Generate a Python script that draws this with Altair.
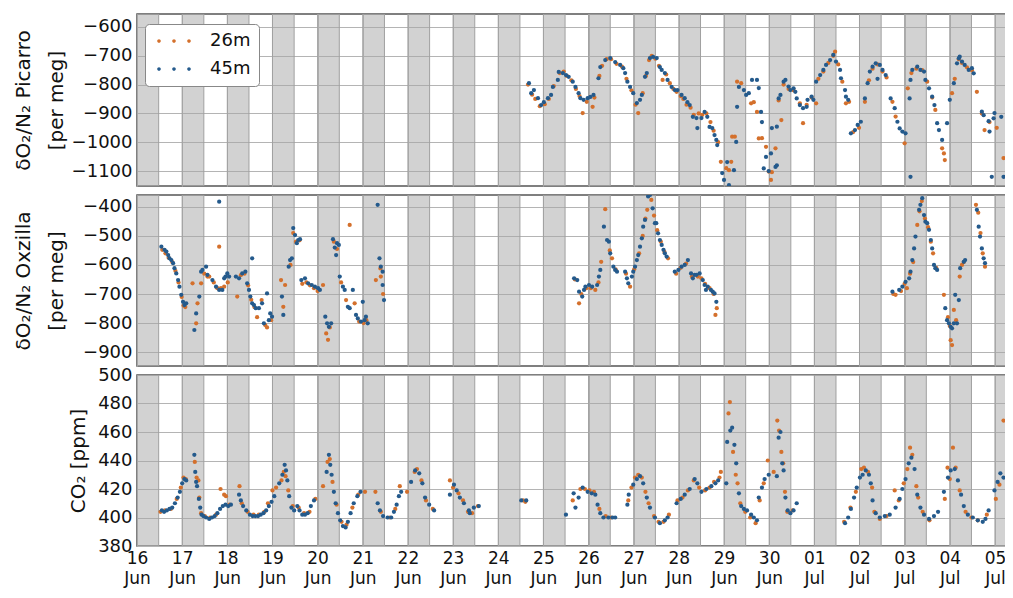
import altair as alt
import pandas as pd

# x values are day-of-June (1 Jul = 31, 2 Jul = 32, ...)
ORANGE = "#d4702c"
BLUE = "#245a8c"

# ---------------- Panel 1: dO2/N2 Picarro ----------------
pic45_t = [24.68, 24.73, 24.79, 24.88, 24.95, 25.01, 25.10, 25.17, 25.21, 25.32, 25.34, 25.43, 25.50, 25.56,
           25.65, 25.71, 25.78, 25.82, 25.89, 25.98, 26.04, 26.11, 26.22, 26.26, 26.37, 26.48, 26.59, 26.70,
           26.77, 26.81, 26.86, 26.92, 26.99, 27.07, 27.14, 27.18, 27.25, 27.29, 27.36, 27.43, 27.51, 27.58,
           27.62, 27.69, 27.75, 27.84, 27.91, 27.97, 28.06, 28.13, 28.19, 28.24, 28.31, 28.39, 28.41, 28.50,
           28.57, 28.63, 28.68, 28.74, 28.79, 28.83, 28.85, 28.96, 29.00, 29.07, 29.11, 29.22, 29.27, 29.29,
           29.33, 29.44, 29.49, 29.55, 29.62, 29.73, 29.77, 29.82, 29.84, 29.88, 29.93, 29.99, 30.04, 30.06,
           30.14, 30.17, 30.17, 30.21, 30.25, 30.32, 30.36, 30.43, 30.47, 30.54, 30.58, 30.61, 30.68, 30.75,
           30.83, 30.85, 30.94, 30.98, 31.04, 31.13, 31.20, 31.26, 31.35, 31.42, 31.48, 31.57, 31.59, 31.68,
           31.70, 31.75, 31.81, 31.90, 31.96, 32.03, 32.12, 32.18, 32.23, 32.29, 32.36, 32.40, 32.45, 32.51,
           32.58, 32.69, 32.78, 32.84, 32.89, 32.95, 33.02, 33.11, 33.13, 33.13, 33.17, 33.28, 33.35, 33.43,
           33.46, 33.54, 33.61, 33.66, 33.72, 33.76, 33.83, 33.94, 34.00, 34.09, 34.16, 34.20, 34.22, 34.27,
           34.33, 34.42, 34.49, 34.53, 34.71, 34.75, 34.86, 34.88, 34.93, 34.97, 34.99, 35.14, 35.19]
pic45_v = [-795, -830, -819, -847, -871, -861, -847, -836, -808, -784, -756, -760, -767, -773,
           -790, -808, -830, -847, -853, -847, -843, -836, -778, -739, -715, -708, -722, -732,
           -743, -760, -790, -808, -830, -864, -853, -836, -773, -760, -708, -704, -708, -739,
           -749, -760, -784, -808, -819, -819, -836, -847, -861, -871, -912, -916, -951, -916,
           -895, -912, -947, -951, -975, -992, -1010, -1107, -1131, -1069, -1149, -1097, -999, -877,
           -808, -819, -836, -830, -784, -784, -812, -895, -930, -1091, -1051, -1100, -1039, -951,
           -1086, -1080, -946, -848, -836, -790, -784, -807, -819, -813, -825, -848, -871, -882,
           -877, -853, -842, -853, -790, -767, -749, -732, -715, -697, -720, -749, -778, -819,
           -842, -853, -969, -958, -940, -929, -848, -795, -755, -738, -726, -780, -732, -749,
           -767, -848, -882, -929, -952, -963, -969, -848, -784, -1120, -749, -738, -749, -755,
           -784, -813, -842, -871, -934, -958, -992, -934, -853, -795, -726, -709, -703, -720,
           -732, -749, -743, -761, -894, -906, -927, -963, -1120, -917, -899, -912, -1120]
pic26_t = [24.66, 24.75, 24.82, 24.92, 25.03, 25.12, 25.23, 25.36, 25.45, 25.52, 25.62, 25.72, 25.80, 25.87,
           25.96, 26.09, 26.13, 26.24, 26.30, 26.40, 26.50, 26.62, 26.74, 26.84, 26.95, 27.04, 27.10, 27.20,
           27.27, 27.34, 27.40, 27.48, 27.56, 27.64, 27.72, 27.80, 27.88, 27.95, 28.04, 28.10, 28.17, 28.26,
           28.33, 28.44, 28.52, 28.61, 28.70, 28.77, 28.87, 28.93, 29.05, 29.11, 29.16, 29.18, 29.24, 29.29,
           29.38, 29.60, 29.66, 29.73, 29.77, 29.84, 29.93, 29.99, 30.04, 30.06, 30.14, 30.21, 30.27, 30.32,
           30.43, 30.54, 30.68, 30.75, 30.83, 30.94, 31.04, 31.09, 31.20, 31.31, 31.42, 31.46, 31.53, 31.62,
           31.70, 31.77, 31.86, 31.99, 32.12, 32.21, 32.29, 32.40, 32.51, 32.60, 32.73, 32.80, 33.00, 33.07,
           33.15, 33.26, 33.39, 33.50, 33.61, 33.68, 33.83, 33.87, 33.89, 34.05, 34.11, 34.20, 34.27, 34.38,
           34.49, 34.60, 34.71, 34.77, 34.88, 35.04, 35.19]
pic26_v = [-800, -835, -850, -875, -868, -850, -805, -760, -755, -770, -785, -815, -840, -899,
           -860, -877, -845, -770, -735, -712, -712, -728, -738, -780, -820, -870, -899, -830,
           -770, -715, -700, -710, -735, -784, -765, -795, -815, -825, -840, -850, -870, -880,
           -905, -900, -905, -900, -930, -960, -1000, -1068, -1090, -1097, -1068, -981, -981, -790,
           -795, -865, -861, -895, -987, -986, -1016, -1102, -1131, -1104, -1021, -855, -923, -800,
           -815, -820, -865, -934, -870, -845, -865, -780, -755, -725, -700, -686, -730, -790,
           -865, -860, -965, -950, -860, -785, -745, -730, -755, -775, -860, -911, -1004, -813,
           -760, -745, -750, -790, -845, -888, -1021, -1039, -1062, -830, -780, -712, -725, -740,
           -750, -825, -900, -958, -930, -950, -1055]

# ---------------- Panel 2: dO2/N2 Oxzilla ----------------
oxz45_t = [16.54, 16.61, 16.65, 16.69, 16.72, 16.76, 16.80, 16.83, 16.87, 16.91, 16.94, 16.98, 17.02, 17.05,
           17.09, 17.27, 17.31, 17.38, 17.42, 17.45, 17.53, 17.56, 17.67, 17.75, 17.82, 17.89, 17.93, 17.96,
           18.00, 18.04, 17.82, 18.19, 18.26, 18.33, 18.40, 18.44, 18.48, 18.51, 18.55, 18.59, 18.63, 18.70,
           18.77, 18.81, 18.92, 18.99, 18.88, 18.95, 18.55, 19.21, 19.24, 19.36, 19.39, 19.43, 19.46, 19.50,
           19.54, 19.57, 19.61, 19.64, 19.72, 19.79, 19.87, 19.94, 20.01, 20.05, 20.17, 20.21, 20.25, 20.30,
           20.34, 20.38, 20.41, 20.43, 20.47, 20.49, 20.56, 20.60, 20.67, 20.71, 20.78, 20.85, 20.89, 20.96,
           21.04, 21.07, 21.00, 21.11, 21.33, 21.37, 21.40, 21.44, 21.44, 21.47,
           25.68, 25.75, 25.79, 25.86, 25.90, 25.93, 26.01, 26.08, 26.19, 26.23, 26.26, 26.34, 26.41, 26.45,
           26.48, 26.55, 26.59, 26.63, 26.81, 26.85, 26.88, 26.96, 26.99, 27.03, 27.07, 27.10, 27.14, 27.18,
           27.21, 27.25, 27.32, 27.36, 27.42, 27.47, 27.50, 27.54, 27.58, 27.62, 27.66, 27.69, 27.73, 27.91,
           27.99, 28.06, 28.13, 28.20, 28.27, 28.31, 28.35, 28.39, 28.46, 28.53, 28.57, 28.60, 28.64, 28.71,
           28.75, 28.79, 28.83,
           32.73, 32.88, 32.95, 33.02, 33.10, 33.13, 33.17, 33.21, 33.24, 33.32, 33.35, 33.39, 33.43, 33.46,
           33.50, 33.54, 33.58, 33.61, 33.65, 33.68, 33.72, 33.90, 33.94, 33.98, 34.02, 34.05, 34.09, 34.12,
           34.16, 34.20, 34.23, 34.31, 34.34, 34.60, 34.64, 34.67, 34.71, 34.75, 34.78]
oxz45_v = [-537, -548, -554, -566, -577, -583, -594, -611, -629, -652, -675, -703, -727, -738,
           -732, -824, -767, -709, -623, -617, -606, -634, -652, -675, -686, -686, -646, -640,
           -629, -640, -382, -640, -646, -629, -623, -663, -686, -709, -732, -738, -749, -749,
           -732, -801, -790, -778, -698, -767, -577, -709, -772, -606, -583, -577, -473, -497,
           -525, -514, -511, -652, -646, -663, -669, -675, -680, -686, -778, -801, -813, -801,
           -511, -540, -566, -525, -531, -640, -675, -686, -744, -749, -686, -772, -784, -795,
           -790, -778, -727, -801, -393, -577, -606, -623, -669, -721,
           -646, -652, -692, -709, -686, -675, -669, -675, -669, -640, -617, -468, -514, -520,
           -560, -606, -617, -623, -623, -646, -663, -640, -623, -606, -583, -566, -537, -508,
           -468, -445, -364, -359, -405, -456, -456, -491, -514, -531, -548, -560, -571, -623,
           -617, -606, -600, -583, -629, -646, -634, -634, -629, -652, -669, -686, -675, -686,
           -692, -698, -727,
           -692, -686, -675, -658, -646, -623, -583, -543, -502, -410, -393, -370, -428, -451,
           -456, -479, -514, -543, -600, -611, -617, -749, -790, -801, -813, -818, -801, -703,
           -801, -721, -611, -589, -583, -410, -468, -502, -543, -577, -594]
oxz26_t = [16.56, 16.63, 16.70, 16.78, 16.85, 16.92, 16.99, 17.03, 17.07, 17.23, 17.31, 17.34, 17.42, 17.49,
           17.56, 17.60, 17.70, 17.78, 17.86, 17.93, 17.82, 18.01, 18.22, 18.30, 18.38, 18.46, 18.53, 18.60,
           18.66, 18.76, 18.84, 18.88, 18.97, 19.19, 19.24, 19.28, 19.40, 19.46, 19.52, 19.60, 19.66, 19.75,
           19.83, 19.92, 20.00, 20.12, 20.19, 20.23, 20.27, 20.36, 20.43, 20.71, 20.52, 20.63, 20.82, 20.92,
           21.02, 21.08, 21.29, 21.40, 21.39, 21.45,
           25.70, 25.79, 25.84, 25.95, 26.05, 26.15, 26.22, 26.28, 26.37, 26.47, 26.52, 26.60, 26.83, 26.92,
           27.01, 27.12, 27.20, 27.26, 27.30, 27.39, 27.45, 27.52, 27.60, 27.68, 27.76, 27.94, 28.04, 28.16,
           28.29, 28.42, 28.50, 28.58, 28.68, 28.77, 28.81, 28.84,
           32.75, 32.80, 32.92, 33.00, 33.05, 33.12, 33.19, 33.28, 33.33, 33.38, 33.45, 33.52, 33.58, 33.63,
           33.70, 33.87, 33.96, 34.00, 34.02, 34.05, 34.09, 34.14, 34.22, 34.27, 34.31, 34.58, 34.63, 34.68,
           34.73, 34.78]
oxz26_v = [-548, -560, -575, -590, -620, -660, -710, -740, -745, -663, -801, -732, -663, -630,
           -640, -640, -660, -680, -680, -675, -537, -660, -709, -635, -630, -670, -720, -745,
           -780, -721, -807, -815, -790, -652, -744, -669, -600, -490, -520, -515, -665, -660,
           -670, -680, -690, -669, -836, -858, -815, -520, -545, -462, -660, -721, -732, -795,
           -800, -790, -652, -640, -612, -700,
           -650, -732, -700, -680, -680, -686, -660, -589, -408, -550, -577, -615, -630, -675,
           -615, -560, -500, -440, -410, -376, -430, -480, -520, -555, -577, -630, -610, -595,
           -640, -640, -646, -665, -680, -700, -772, -749,
           -700, -703, -690, -665, -680, -630, -590, -462, -415, -380, -440, -470, -520, -560,
           -610, -703, -780, -810, -859, -876, -755, -790, -640, -600, -590, -393, -420, -490,
           -560, -606]

# ---------------- Panel 3: CO2 ----------------
co245_t = [16.55, 16.60, 16.66, 16.72, 16.78, 16.84, 16.90, 16.95, 17.00, 17.05, 17.09, 17.27, 17.29, 17.31,
           17.33, 17.37, 17.40, 17.43, 17.47, 17.53, 17.60, 17.66, 17.72, 17.78, 17.84, 17.90, 17.96, 18.02,
           18.08, 18.26, 18.30, 18.35, 18.42, 18.50, 18.56, 18.62, 18.68, 18.74, 18.80, 18.86, 18.92, 18.98,
           19.04, 19.15, 19.22, 19.27, 19.30, 19.33, 19.37, 19.42, 19.48, 19.55, 19.60, 19.66, 19.72, 19.78,
           19.85, 19.92, 20.20, 20.25, 20.28, 20.31, 20.36, 20.40, 20.45, 20.50, 20.56, 20.62, 20.67, 20.73,
           20.80, 20.88, 20.95, 21.33, 21.38, 21.45, 21.55, 21.63, 21.69, 21.75, 21.80, 21.85, 22.07, 22.16,
           22.25, 22.32, 22.38, 22.47, 22.58, 22.93, 23.02, 23.08, 23.15, 23.24, 23.35, 23.37, 23.46, 23.57,
           24.51, 24.62, 25.50, 25.67, 25.71, 25.78, 25.87, 25.98, 26.07, 26.15, 26.20, 26.26, 26.33, 26.44,
           26.53, 26.59, 26.86, 26.89, 26.99, 27.07, 27.14, 27.21, 27.29, 27.36, 27.47, 27.58, 27.69, 27.75,
           27.95, 28.04, 28.13, 28.24, 28.35, 28.41, 28.50, 28.61, 28.72, 28.81, 28.87, 29.05, 29.07, 29.14,
           29.18, 29.23, 29.27, 29.33, 29.38, 29.44, 29.51, 29.60, 29.66, 29.73, 29.77, 29.84, 29.90, 29.99,
           30.17, 30.21, 30.25, 30.29, 30.32, 30.36, 30.41, 30.47, 30.54, 30.61, 31.68, 31.75, 31.81, 31.88,
           31.94, 32.01, 32.07, 32.14, 32.21, 32.25, 32.29, 32.36, 32.45, 32.56, 32.67, 32.80, 32.89, 32.95,
           33.02, 33.09, 33.15, 33.22, 33.28, 33.35, 33.43, 33.54, 33.65, 33.74, 33.87, 33.96, 34.02, 34.11,
           34.18, 34.25, 34.31, 34.40, 34.51, 34.62, 34.73, 34.79, 34.86, 34.99, 35.06, 35.12, 35.19]
co245_v = [405, 404, 405, 406, 407, 410, 414, 418, 424, 427, 426, 444, 432, 425,
           422, 413, 407, 402, 401, 400, 399, 400, 401, 403, 406, 408, 409, 408,
           409, 416, 412, 408, 405, 402, 401, 401, 401, 402, 403, 405, 408, 411,
           415, 424, 430, 437, 433, 426, 415, 407, 405, 408, 405, 402, 402, 403,
           408, 412, 432, 444, 437, 430, 418, 410, 403, 398, 394, 393, 397, 403,
           410, 415, 418, 410, 405, 401, 400, 400, 404, 409, 415, 418, 425, 433,
           431, 424, 414, 409, 405, 416, 423, 419, 414, 410, 405, 403, 407, 408,
           412, 412, 402, 417, 407, 414, 421, 418, 417, 416, 409, 403, 400, 400,
           400, 400, 409, 416, 423, 427, 429, 424, 414, 407, 400, 396, 398, 400,
           410, 413, 416, 420, 427, 424, 418, 420, 422, 424, 426, 424, 453, 461,
           463, 451, 438, 417, 408, 406, 405, 402, 400, 398, 414, 421, 427, 430,
           429, 456, 460, 438, 433, 414, 405, 403, 405, 410, 396, 400, 406, 414,
           421, 428, 430, 433, 430, 424, 412, 403, 400, 401, 402, 407, 413, 420,
           427, 438, 442, 434, 416, 407, 402, 399, 401, 404, 418, 428, 433, 434,
           426, 416, 408, 402, 400, 398, 397, 399, 405, 419, 425, 431, 428]
co226_t = [16.52, 16.62, 16.75, 16.88, 16.97, 17.03, 17.08, 17.28, 17.32, 17.36, 17.38, 17.42, 17.50, 17.62,
           17.75, 17.85, 17.93, 17.97, 18.05, 18.27, 18.32, 18.45, 18.58, 18.70, 18.82, 18.90, 19.00, 19.08,
           19.20, 19.25, 19.29, 19.35, 19.45, 19.58, 19.70, 19.82, 19.95, 20.12, 20.22, 20.27, 20.33, 20.42,
           20.53, 20.64, 20.77, 20.90, 21.05, 21.28, 21.40, 21.60, 21.72, 21.82, 21.98, 22.15, 22.20, 22.30,
           22.40, 22.55, 22.93, 23.00, 23.12, 23.22, 23.33, 23.42, 23.55, 24.55, 24.60, 25.65, 25.82, 25.92,
           26.02, 26.12, 26.24, 26.38, 26.50, 26.88, 26.95, 27.03, 27.10, 27.18, 27.26, 27.33, 27.45, 27.55,
           27.66, 27.78, 27.97, 28.08, 28.20, 28.33, 28.45, 28.58, 28.68, 28.78, 28.90, 28.93, 29.10, 29.13,
           29.20, 29.26, 29.30, 29.36, 29.47, 29.58, 29.70, 29.79, 29.88, 29.97, 30.10, 30.18, 30.22, 30.27,
           30.31, 30.35, 30.40, 30.52, 31.66, 31.80, 31.92, 32.04, 32.10, 32.19, 32.28, 32.33, 32.45, 32.60,
           32.78, 32.87, 32.98, 33.06, 33.12, 33.17, 33.26, 33.30, 33.40, 33.55, 33.89, 33.95, 34.00, 34.07,
           34.13, 34.22, 34.35, 34.48, 34.62, 34.82, 35.02, 35.10, 35.19]
co226_v = [404, 405, 406, 413, 421, 428, 427, 439, 428, 426, 414, 403, 401, 400,
           402, 420, 416, 415, 409, 422, 410, 404, 402, 402, 404, 410, 419, 421,
           426, 432, 429, 419, 408, 407, 403, 404, 413, 422, 439, 441, 425, 409,
           397, 395, 407, 416, 418, 418, 404, 400, 406, 422, 418, 432, 434, 426,
           412, 406, 426, 421, 417, 412, 404, 403, 408, 412, 411, 412, 420, 420,
           419, 418, 406, 401, 400, 412, 421, 428, 430, 428, 418, 410, 401, 397,
           397, 402, 412, 414, 419, 426, 421, 419, 421, 425, 428, 432, 473, 481,
           446, 430, 424, 410, 404, 400, 396, 412, 424, 440, 432, 468, 461, 446,
           438, 418, 404, 405, 397, 407, 418, 434, 435, 432, 421, 404, 399, 401,
           419, 412, 424, 434, 449, 444, 422, 414, 404, 398, 413, 435, 427, 449,
           435, 419, 404, 400, 398, 402, 413, 423, 468]

# ---------------- axis ticks / labels / shading ----------------
tick_days = list(range(16, 36))
tick_day_labels = ["16", "17", "18", "19", "20", "21", "22", "23", "24", "25", "26", "27", "28", "29",
                   "30", "01", "02", "03", "04", "05"]
tick_month_labels = ["Jun"] * 15 + ["Jul"] * 5
band_start = list(range(16, 36))
band_end = [s + 0.48 for s in band_start]
X_DOMAIN = [16, 35.40]

series_names = ["26m", "45m"]


def make_df(t26, v26, t45, v45):
    a = pd.DataFrame({"day": t26, "value": v26, "height": "26m"})
    b = pd.DataFrame({"day": t45, "value": v45, "height": "45m"})
    return pd.concat([a, b], ignore_index=True)


bands_df = pd.DataFrame({"start": band_start, "end": band_end})

days_js = "[" + ",".join("'%s'" % s for s in tick_day_labels) + "]"
months_js = "[" + ",".join("'%s'" % s for s in tick_month_labels) + "]"
label_expr = f"[{days_js}[datum.value-16], {months_js}[datum.value-16]]"

GRID = "#b4b4b4"
TXT = "#111111"
x_scale = alt.Scale(domain=X_DOMAIN, nice=False, zero=False)
color_scale = alt.Scale(domain=series_names, range=[ORANGE, BLUE])


def x_axis(bottom):
    if bottom:
        return alt.Axis(values=tick_days, title=None, grid=True, gridColor=GRID, ticks=False,
                        domain=False, labelExpr=label_expr, labelFontSize=17, labelLineHeight=20,
                        labelPadding=4, labelFlush=False, labelOverlap=False, labelColor=TXT)
    return alt.Axis(values=tick_days, title=None, grid=True, gridColor=GRID, ticks=False,
                    domain=False, labels=False, minExtent=0, maxExtent=0)


def panel(df, title, ydomain, yticks, height, bottom, extent, title_pad, legend):
    bands = alt.Chart(bands_df).mark_rect(
        fill="#a6a6a6", fillOpacity=0.5, stroke="#a0a0a0", strokeWidth=1, clip=True
    ).encode(
        x=alt.X("start:Q", scale=x_scale, axis=x_axis(bottom)),
        x2="end:Q",
    )
    pts = alt.Chart(df).mark_circle(size=18, opacity=1, clip=True).encode(
        x=alt.X("day:Q", scale=x_scale, axis=x_axis(bottom)),
        y=alt.Y("value:Q", scale=alt.Scale(domain=ydomain, nice=False, zero=False),
                axis=alt.Axis(values=yticks, format="d", title=title, grid=True, gridColor=GRID,
                              ticks=False, domain=False, labelFontSize=18, labelPadding=5,
                              labelOverlap=False, titleFontSize=20, titleFontWeight="normal",
                              titlePadding=title_pad, titleLineHeight=33, minExtent=extent,
                              maxExtent=extent, labelColor=TXT, titleColor=TXT)),
        color=alt.Color("height:N", scale=color_scale, legend=legend),
    )
    return alt.layer(bands, pts).properties(width=876, height=height)


# legend symbol: three small dots in a row
dots_path = ("M-2.24,0a0.24,0.24 0 1,0 0.48,0a0.24,0.24 0 1,0 -0.48,0Z "
             "M-0.24,0a0.24,0.24 0 1,0 0.48,0a0.24,0.24 0 1,0 -0.48,0Z "
             "M1.76,0a0.24,0.24 0 1,0 0.48,0a0.24,0.24 0 1,0 -0.48,0Z")
legend = alt.Legend(title=None, orient="none", legendX=8, legendY=10, symbolType=dots_path,
                    symbolSize=225, symbolStrokeWidth=0, symbolOffset=12, labelFontSize=18,
                    labelColor=TXT, fillColor="white", strokeColor="#888888", cornerRadius=4,
                    padding=8, labelOffset=27, rowPadding=10)

p1 = panel(make_df(pic26_t, pic26_v, pic45_t, pic45_v), ["δO₂/N₂ Picarro", "[per meg]"],
           [-1152, -555], [-1100, -1000, -900, -800, -700, -600], 172, False, 68, 3, legend)
p2 = panel(make_df(oxz26_t, oxz26_v, oxz45_t, oxz45_v), ["δO₂/N₂ Oxzilla", "[per meg]"],
           [-948, -359], [-900, -800, -700, -600, -500, -400], 171, False, 68, 3, None)
p3 = panel(make_df(co226_t, co226_v, co245_t, co245_v), "CO₂ [ppm]",
           [380, 500], [380, 400, 420, 440, 460, 480, 500], 171, True, 40, 9, None)

# fixed-size canvas (997 x 582): the plot area starts 129px in and runs on past the right
# edge, where it is cut, as in the reference picture
chart = alt.vconcat(p1, p2, p3, spacing=9, bounds="flush").resolve_legend(
    color="independent").properties(
    autosize=alt.AutoSizeParams(type="none"),
    padding={"left": 129, "top": 6, "right": -8, "bottom": 576}
).configure(font="DejaVu Sans").configure_view(stroke="#555555", strokeWidth=1.5)

chart.save("out.html", embed_options={"renderer": "svg", "actions": False})
